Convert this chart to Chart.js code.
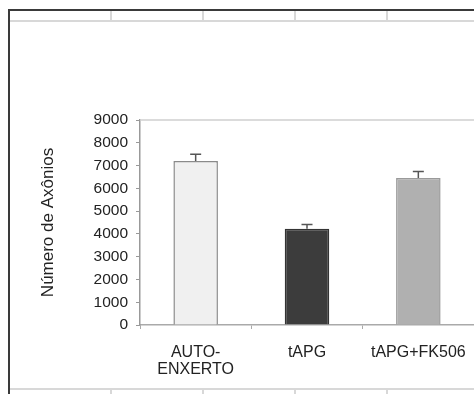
<!DOCTYPE html>
<html>
<head>
<meta charset="utf-8">
<script src="https://cdn.jsdelivr.net/npm/chart.js@4.4.1/dist/chart.umd.min.js"></script>
<style>
  html, body { margin: 0; padding: 0; background: #fff; }
  #wrap { position: relative; width: 474px; height: 394px; overflow: hidden; }
  canvas { position: absolute; left: 0; top: 0; }
  .ln { position: absolute; }
</style>
</head>
<body>
<div id="wrap">
  <canvas id="c" width="474" height="394"></canvas>
  <div class="ln" style="left:8px;top:9px;width:2px;height:385px;background:#3a3a3a"></div>
  <div class="ln" style="left:8px;top:9px;width:466px;height:2px;background:#3a3a3a"></div>
  <div class="ln" style="left:10px;top:20px;width:464px;height:2px;background:#d8d8d8"></div>
  <div class="ln" style="left:110px;top:11px;width:2px;height:10px;background:#d8d8d8"></div>
  <div class="ln" style="left:202px;top:11px;width:2px;height:10px;background:#d8d8d8"></div>
  <div class="ln" style="left:294px;top:11px;width:2px;height:10px;background:#d8d8d8"></div>
  <div class="ln" style="left:386px;top:11px;width:2px;height:10px;background:#d8d8d8"></div>
  <div class="ln" style="left:10px;top:388px;width:464px;height:2px;background:#d8d8d8"></div>
  <div class="ln" style="left:110px;top:389px;width:2px;height:5px;background:#d8d8d8"></div>
  <div class="ln" style="left:202px;top:389px;width:2px;height:5px;background:#d8d8d8"></div>
  <div class="ln" style="left:294px;top:389px;width:2px;height:5px;background:#d8d8d8"></div>
  <div class="ln" style="left:386px;top:389px;width:2px;height:5px;background:#d8d8d8"></div>
</div>
<script>
const categories = [["AUTO-", "ENXERTO"], "tAPG", "tAPG+FK506"];
const axonCounts = [7200, 4230, 6450];
const axonErrors = [300, 180, 290];
const yTicks = [0, 1000, 2000, 3000, 4000, 5000, 6000, 7000, 8000, 9000];
const yTitle = "Número de Axônios";

const barFill = ["#f0f0f0", "#3c3c3c", "#b0b0b0"];
const barEdge = ["#8a8a8a", "#333333", "#9a9a9a"];

const errorBarPlugin = {
  id: "errorBars",
  afterDatasetsDraw(chart) {
    const ctx = chart.ctx;
    const meta = chart.getDatasetMeta(0);
    const ys = chart.scales.y;
    ctx.save();
    ctx.strokeStyle = "#555";
    ctx.lineWidth = 1.5;
    meta.data.forEach((el, i) => {
      const top = ys.getPixelForValue(axonCounts[i] + axonErrors[i]);
      ctx.beginPath();
      ctx.moveTo(el.x, el.y);
      ctx.lineTo(el.x, top);
      ctx.moveTo(el.x - 5.5, top);
      ctx.lineTo(el.x + 5.5, top);
      ctx.stroke();
    });
    ctx.restore();
  }
};

const topLinePlugin = {
  id: "topLine",
  beforeDatasetsDraw(chart) {
    const { ctx, chartArea } = chart;
    ctx.save();
    ctx.strokeStyle = "#cfcfcf";
    ctx.lineWidth = 1.5;
    ctx.beginPath();
    ctx.moveTo(chartArea.left, chartArea.top);
    ctx.lineTo(chartArea.right, chartArea.top);
    ctx.stroke();
    ctx.restore();
  }
};

new Chart(document.getElementById("c"), {
  type: "bar",
  data: {
    labels: categories,
    datasets: [{
      data: axonCounts,
      backgroundColor: barFill,
      borderColor: barEdge,
      borderWidth: 1.5,
      barPercentage: 0.4,
      categoryPercentage: 1.0
    }]
  },
  options: {
    responsive: false,
    animation: false,
    layout: { padding: { left: 0, top: 120, right: 0, bottom: 0 } },
    plugins: { legend: { display: false }, tooltip: { enabled: false } },
    scales: {
      x: {
        afterFit(s) { s.height = 69; s.paddingLeft = 0; s.paddingRight = 0; },
        grid: { display: true, offset: true, drawOnChartArea: false, drawTicks: true, tickLength: 4, color: "#aaa" },
        border: { color: "#aaa", width: 1.5 },
        ticks: {
          color: "#222",
          font: { family: "'Liberation Sans', Arial, sans-serif", size: 16, lineHeight: 1.05 },
          padding: 15, maxRotation: 0, autoSkip: false
        }
      },
      y: {
        min: 0, max: 9000,
        afterFit(s) { s.width = 140; s.paddingTop = 0; s.paddingBottom = 0; },
        afterBuildTicks(s) { s.ticks = yTicks.map(v => ({ value: v })); },
        grid: { display: true, drawOnChartArea: false, drawTicks: true, tickLength: 4, color: "#999" },
        border: { color: "#999", width: 1.5 },
        ticks: {
          color: "#222",
          font: { family: "'Liberation Sans', Arial, sans-serif", size: 15.5 },
          padding: 8,
          callback: (v) => String(v)
        },
        title: {
          display: true, text: yTitle, color: "#222",
          font: { family: "'Liberation Sans', Arial, sans-serif", size: 17 },
          padding: { top: 38, bottom: 0 }
        }
      }
    }
  },
  plugins: [errorBarPlugin, topLinePlugin]
});
</script>
</body>
</html>
